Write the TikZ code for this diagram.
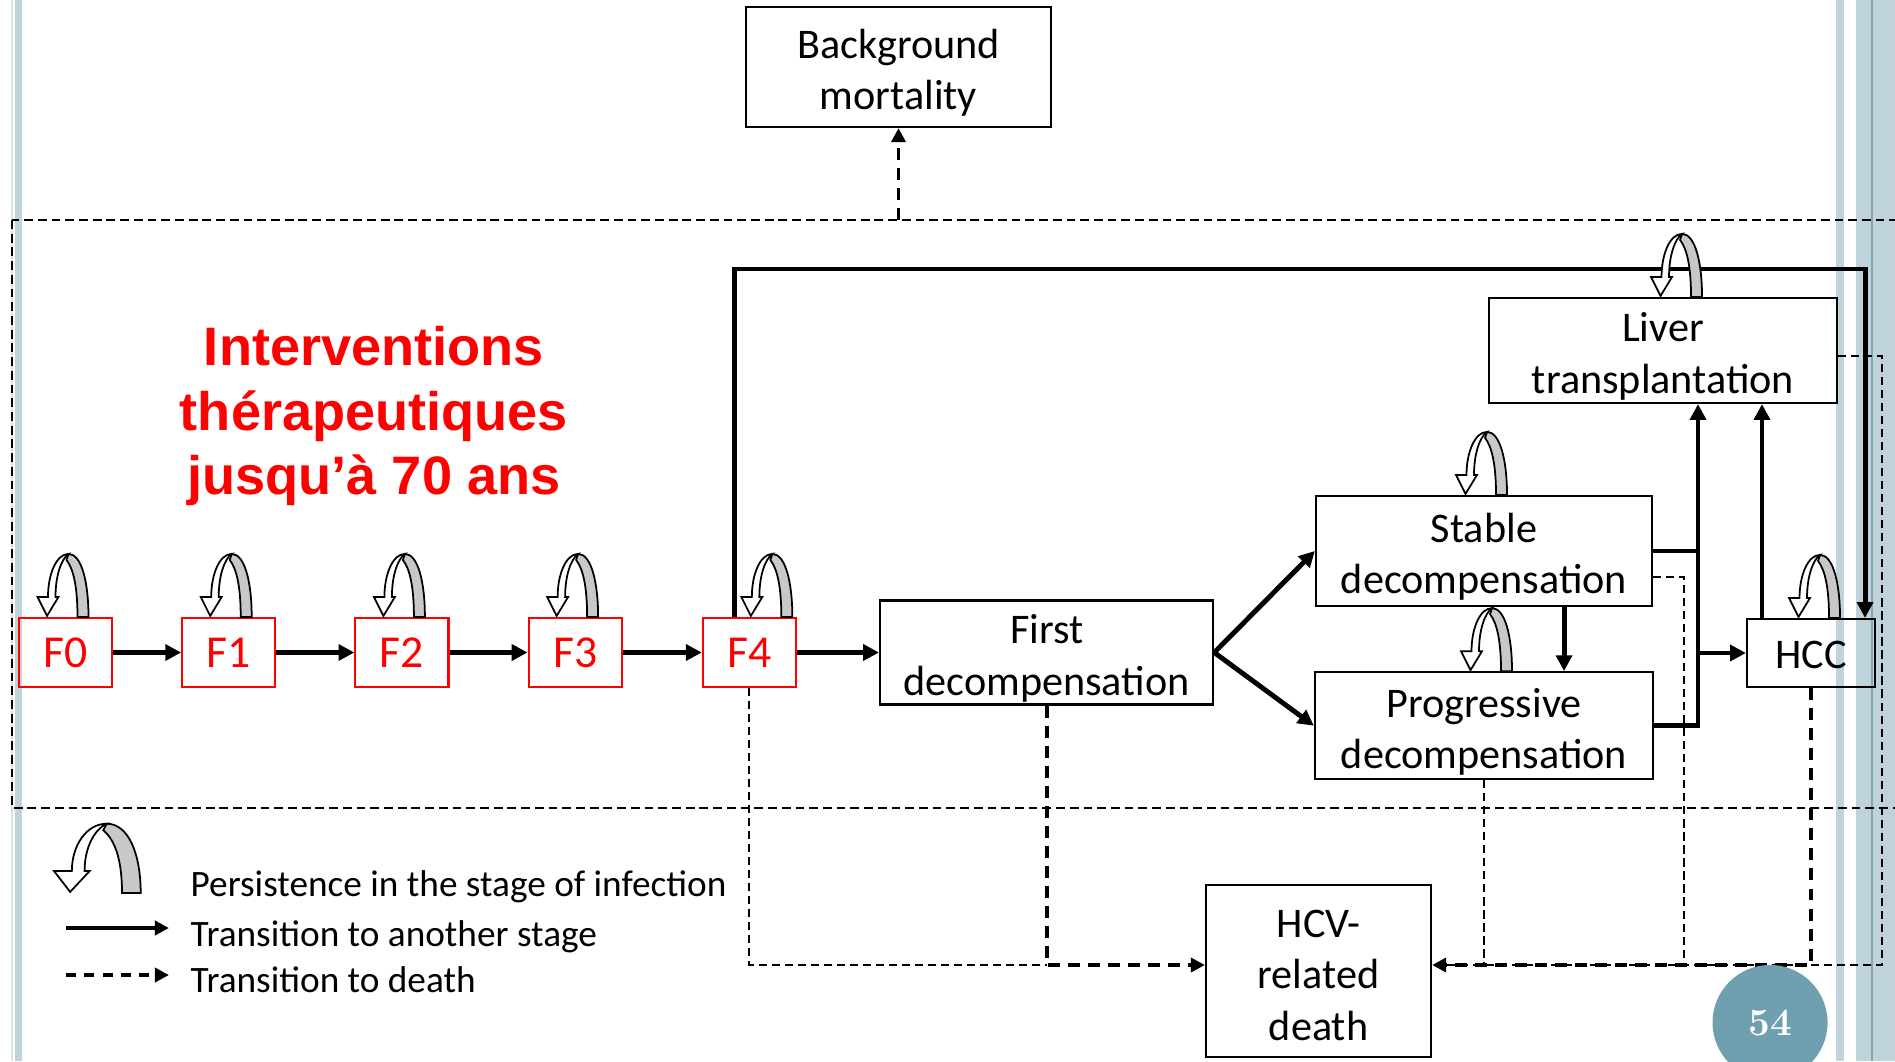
\documentclass[tikz,border=0pt]{standalone}
\usepackage{fontspec}
\newfontfamily\calibri{Carlito}
\newfontfamily\arialfont{Liberation Sans}
\usetikzlibrary{positioning,arrows.meta,calc}
\definecolor{stripe}{HTML}{C0D3DB}
\definecolor{stripedark}{HTML}{7FA8B8}
\definecolor{pnum}{HTML}{6FA0B0}
\definecolor{loopgray}{HTML}{C8C8C8}
\tikzstyle{sbox}=[rectangle, draw=black, line width=0.6pt, inner sep=0pt,
                  align=center, font=\calibri\fontsize{12}{14.6}\selectfont]
\tikzstyle{fsbox}=[rectangle, draw=red, line width=0.6pt, inner sep=0pt,
                   minimum width=0.93cm, minimum height=0.69cm, text=red,
                   font=\calibri\fontsize{13}{15}\selectfont]
\tikzstyle{tline}=[line width=1.4pt, -{Triangle[length=4.5pt,width=4.5pt]}]
\tikzstyle{dline}=[line width=1.1pt, dash pattern=on 3.4pt off 2.3pt,
                   -{Triangle[length=4pt,width=4pt]}]
\tikzstyle{dthin}=[line width=0.5pt, dash pattern=on 2.3pt off 1.4pt]
\tikzstyle{zone}=[line width=0.55pt, dash pattern=on 2.5pt off 1.4pt]
\tikzstyle{legtext}=[anchor=west, inner sep=0pt, font=\calibri\fontsize{10.6}{12.7}\selectfont]
% pushes box text a little down
\newcommand{\boxstrut}[1][0.41cm]{\rule{0pt}{#1}}
% curved arrow for staying in a stage
\newcommand{\persist}[2][]{%
 \begin{scope}[shift={(#2)}, x=0.01cm, y=0.01cm, line width=0.5pt, #1]
  \draw[fill=loopgray] (12,0) .. controls (12,30) and (8,48) .. (1,57) -- (3,63)
        .. controls (16,63) and (23,35) .. (23,0) -- cycle;
  \draw[fill=white] (-28,20) -- (-17.5,20) .. controls (-17.5,43) and (-9,63) .. (3,63)
        .. controls (-4,58) and (-10,42) .. (-10,20) -- (-7,20) -- (-18.5,1) -- cycle;
 \end{scope}}

\begin{document}
\begin{tikzpicture}[x=0.01cm, y=-0.01cm]
\useasboundingbox (0,0) rectangle (1895,1061);

% slide stripes
\fill[stripe!60] (11,0) rectangle (13,1061);
\fill[stripe] (15,0) rectangle (22,1061);
\fill[stripe] (1836,0) rectangle (1844,1061);
\fill[stripe] (1856,0) rectangle (1895,1061);
\fill[stripedark] (1871,0) rectangle (1873,1061);

\coordinate (ZTL) at (12,220);
\coordinate (ZBR) at (1910,808);
\draw[zone] (ZTL) rectangle (ZBR);

\node (TITLE) [text=red, align=center, font=\arialfont\bfseries\fontsize{15.4}{18.2}\selectfont]
      at (374,416) {Interventions\\thérapeutiques\\jusqu’à 70 ans};

\node (F0) [fsbox] at (65.5,652.5) {F0};
\node (F1) [fsbox, right=0.68cm of F0] {F1};
\node (F2) [fsbox, right=0.78cm of F1] {F2};
\node (F3) [fsbox, right=0.78cm of F2] {F3};
\node (F4) [fsbox, right=0.79cm of F3] {F4};
\draw[tline] (F0.east) -- (F1.west);
\draw[tline] (F1.east) -- (F2.west);
\draw[tline] (F2.east) -- (F3.west);
\draw[tline] (F3.east) -- (F4.west);

\node (FDEC) [sbox, minimum width=3.33cm, minimum height=1.04cm, right=0.82cm of F4] {\boxstrut First\\decompensation};
\node (SDEC) [sbox, minimum width=3.36cm, minimum height=1.10cm] at (1484,551) {\boxstrut Stable\\decompensation};
\node (PDEC) [sbox, minimum width=3.38cm, minimum height=1.07cm, below=0.64cm of SDEC] {\boxstrut Progressive\\decompensation};
\node (LT) [sbox, minimum width=3.48cm, minimum height=1.05cm] at (1663,350.5) {\boxstrut Liver\\transplantation};
\node (HCC) [sbox, minimum width=1.28cm, minimum height=0.68cm] at (1811,653) {\boxstrut[0.32cm]HCC};
\node (HCVD) [sbox, minimum width=2.25cm, minimum height=1.72cm] at (1318.5,971) {\boxstrut[0.36cm]HCV-\\related\\death};
\node (BGM) [sbox, minimum width=3.05cm, minimum height=1.20cm] at (898.5,67) {\boxstrut Background\\mortality};

\coordinate (TOP) at (1865,269);
\coordinate (JX) at (1698,0);
\coordinate (SX) at (1684,0);
\coordinate (LX) at (1882,0);
\coordinate (DY) at (0,965);

\draw[tline] (F4.east) -- (FDEC.west);
\draw[tline] (FDEC.east) -- (SDEC.west);
\draw[tline] (FDEC.east) -- (PDEC.west);
\draw[tline] ([xshift=0.8cm]SDEC.south) -- ([xshift=0.8cm]SDEC.south |- PDEC.north);
\draw[tline, -] (SDEC.east) -- (SDEC.east -| JX);
\draw[tline] (PDEC.east) -| (LT.south -| JX);
\draw[tline] (HCC.west -| JX) -- (HCC.west);
\draw[tline] ([xshift=-0.49cm]HCC.north) -- ([xshift=-0.49cm]HCC.north |- LT.south);
\draw[tline] ([xshift=-0.15cm]F4.north) |- (TOP) -- (TOP |- HCC.north);

% deaths
\draw[dline] (BGM.south |- ZTL) -- (BGM.south);
\draw[dthin] (F4.south) |- (FDEC.south |- DY);
\draw[dthin] (PDEC.south) -- (PDEC.south |- DY);
\draw[dthin] ([yshift=-0.26cm]SDEC.east) -| (SX |- DY);
\draw[dthin] ([yshift=-0.055cm]LT.east) -| (LX |- DY) -- (HCVD.east |- DY);
\draw[dline] (FDEC.south) |- (HCVD.west |- DY);
\draw[dline] (HCC.south) |- (HCVD.east |- DY);

\foreach \n in {F0,F1,F2,F3} {\persist{\n.north}}
\persist{[xshift=0.2cm]F4.north}
\persist{SDEC.north}
\persist{[xshift=0.05cm]PDEC.north}
\persist{[xshift=0.16cm]LT.north}
\persist{[xshift=0.06cm]HCC.north}

% legend
\coordinate (LG0) at (101.6,893);
\persist[xscale=1.7, yscale=1.1]{LG0}
\node (LG1) [legtext] at (190,887) {Persistence in the stage of infection};
\node (LG2) [legtext] at (190,937) {Transition to another stage};
\node (LG3) [legtext] at (190,980) {Transition to death};
\draw[line width=1.1pt, -{Triangle[length=4pt,width=4pt]}]
      ([xshift=-1.24cm,yshift=0.09cm]LG2.west) -- ([xshift=-0.21cm,yshift=0.09cm]LG2.west);
\draw[line width=1.1pt, dash pattern=on 2.9pt off 2.3pt, -{Triangle[length=4pt,width=4pt]}]
      ([xshift=-1.24cm,yshift=0.05cm]LG3.west) -- ([xshift=-0.21cm,yshift=0.05cm]LG3.west);

\node (PNUM) [circle, fill=pnum, minimum size=1.15cm, inner sep=0pt, text=white,
      font=\bfseries\fontsize{11}{13}\selectfont] at (1770,1022.5) {54};

\end{tikzpicture}
\end{document}
